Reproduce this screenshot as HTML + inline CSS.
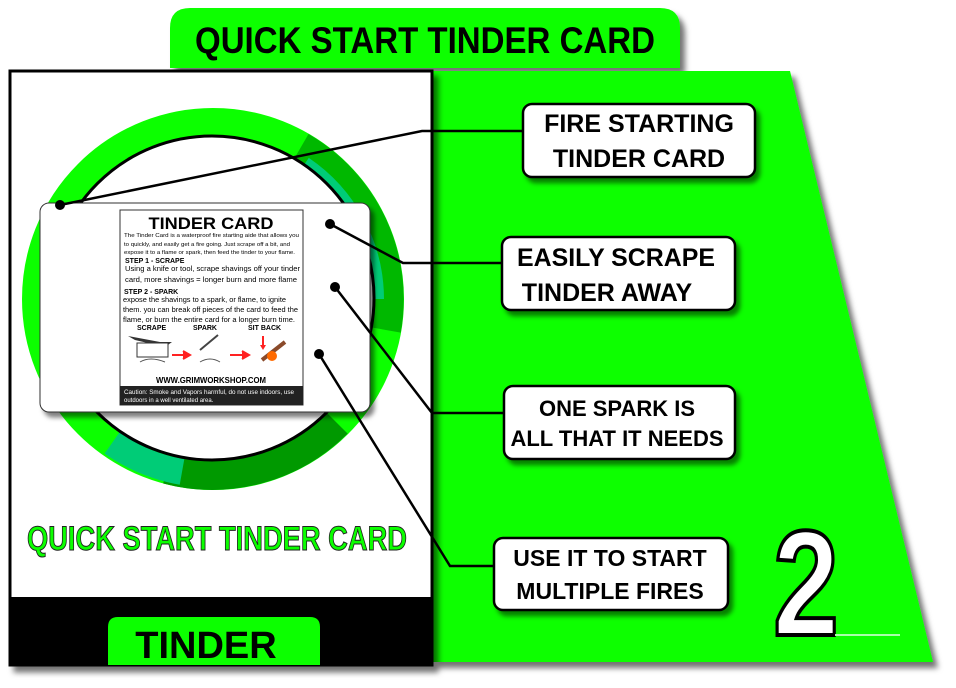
<!DOCTYPE html>
<html><head><meta charset="utf-8"><style>
html,body{margin:0;padding:0;background:#fff;}
svg{display:block;font-family:"Liberation Sans",sans-serif;}
.b{font-weight:bold;}
</style></head><body>
<svg width="956" height="688" viewBox="0 0 956 688" xmlns="http://www.w3.org/2000/svg">
<defs>
<filter id="sh" x="-10%" y="-10%" width="130%" height="130%"><feDropShadow dx="5" dy="6" stdDeviation="3" flood-color="#000" flood-opacity="0.55"/></filter>
<filter id="sh2" x="-10%" y="-10%" width="130%" height="130%"><feDropShadow dx="4" dy="5" stdDeviation="2.5" flood-color="#000" flood-opacity="0.5"/></filter>
</defs>
<path d="M170 68 V28 Q170 8 190 8 H660 Q680 8 680 28 V68 Z" fill="#0cff00" filter="url(#sh)"/>
<text x="425" y="53" text-anchor="middle" class="b" font-size="37" fill="#000" textLength="460" lengthAdjust="spacingAndGlyphs">QUICK START TINDER CARD</text>
<polygon points="432,71 790,71 933,662 432,662" fill="#0cff00" filter="url(#sh)"/>
<rect x="10" y="71" width="422" height="594" fill="#fff" stroke="#000" stroke-width="3" filter="url(#sh)"/>
<rect x="10" y="597" width="422" height="68" fill="#000"/>
<path d="M108 665 V627 Q108 617 118 617 H310 Q320 617 320 627 V665 Z" fill="#0cff00"/>
<text x="206" y="658" text-anchor="middle" class="b" font-size="38" fill="#000">TINDER</text>
<!-- ring -->
<circle cx="213" cy="299" r="176" fill="none" stroke="#0cff00" stroke-width="30"/>
<g fill="none">
<path d="M301 147 A176 176 0 0 1 386 330" stroke="#00b800" stroke-width="30"/>
<path d="M306 162 A166 166 0 0 1 379 299" stroke="#00cc77" stroke-width="10"/>
<path d="M337 423 A176 176 0 0 1 167 469" stroke="#009900" stroke-width="30"/>
<path d="M182 472 A176 176 0 0 1 112 443" stroke="#00cc77" stroke-width="26"/>
</g>
<circle cx="212" cy="298" r="162" fill="#fff" stroke="#000" stroke-width="3"/>
<!-- tinder card -->
<rect x="40" y="203" width="330" height="209" rx="9" fill="#fff" stroke="#333" stroke-width="1" filter="url(#sh2)"/>
<rect x="120" y="210" width="183" height="195" fill="#fff" stroke="#333" stroke-width="1"/>
<text x="211" y="229" text-anchor="middle" class="b" font-size="17" fill="#000" textLength="125" lengthAdjust="spacingAndGlyphs">TINDER CARD</text>
<g font-size="5.6" fill="#000">
<text x="124" y="237" textLength="175" lengthAdjust="spacingAndGlyphs">The Tinder Card is a waterproof fire starting aide that allows you</text>
<text x="124" y="246" textLength="166" lengthAdjust="spacingAndGlyphs">to quickly, and easily get a fire going. Just scrape off a bit, and</text>
<text x="124" y="254" textLength="171" lengthAdjust="spacingAndGlyphs">expose it to a flame or spark, then feed the tinder to your flame.</text>
<text x="125" y="263" class="b" font-size="7">STEP 1 - SCRAPE</text>
<text x="125" y="271" font-size="7.5" textLength="175" lengthAdjust="spacingAndGlyphs">Using a knife or tool, scrape shavings off your tinder</text>
<text x="125" y="282" font-size="7.5" textLength="172" lengthAdjust="spacingAndGlyphs">card, more shavings = longer burn and more flame</text>
<text x="124" y="294" class="b" font-size="7">STEP 2 - SPARK</text>
<text x="123" y="302" font-size="7" textLength="163" lengthAdjust="spacingAndGlyphs">expose the shavings to a spark, or flame, to ignite</text>
<text x="123" y="312" font-size="7" textLength="175" lengthAdjust="spacingAndGlyphs">them. you can break off pieces of the card to feed the</text>
<text x="123" y="322" font-size="7" textLength="172" lengthAdjust="spacingAndGlyphs">flame, or burn the entire card for a longer burn time.</text>
<text x="137" y="330" class="b" font-size="7">SCRAPE</text>
<text x="193" y="330" class="b" font-size="7">SPARK</text>
<text x="248" y="330" class="b" font-size="7">SIT BACK</text>
</g>
<path d="M128 336 L160 342 L172 342 L165 347 L135 340 Z" fill="#333"/>
<rect x="137" y="343" width="31" height="14" fill="#fff" stroke="#333"/>
<path d="M140 362 q10 -6 25 0" stroke="#555" fill="none"/>
<path d="M172 355 H188 M183 351 L190 355 L183 359" stroke="#f22" stroke-width="2" fill="#f22"/>
<path d="M230 355 H247 M242 351 L249 355 L242 359" stroke="#f22" stroke-width="2" fill="#f22"/>
<path d="M200 350 L218 335" stroke="#444" stroke-width="2"/>
<path d="M200 362 q10 -6 20 0" stroke="#555" fill="none"/>
<path d="M263 336 V348" stroke="#f22" stroke-width="2"/>
<path d="M260 345 l3 5 l3 -5z" fill="#f22"/>
<path d="M262 360 L285 342" stroke="#8a4a2a" stroke-width="4"/>
<circle cx="272" cy="356" r="5" fill="#ff6a00"/>
<text x="211" y="383" text-anchor="middle" class="b" font-size="8.5" fill="#000" textLength="110" lengthAdjust="spacingAndGlyphs">WWW.GRIMWORKSHOP.COM</text>
<rect x="120" y="386" width="183" height="19" fill="#222"/>
<text x="124" y="394" font-size="6" fill="#fff" textLength="170" lengthAdjust="spacingAndGlyphs">Caution: Smoke and Vapors harmful, do not use indoors, use</text>
<text x="124" y="402" font-size="6" fill="#fff">outdoors in a well ventilated area.</text>
<text x="217" y="550" text-anchor="middle" class="b" font-size="34" fill="#0cff00" stroke="#222" stroke-width="1" textLength="380" lengthAdjust="spacingAndGlyphs">QUICK START TINDER CARD</text>
<g stroke="#000" stroke-width="2.5" fill="none">
<polyline points="60,205 422,131 522,131"/>
<polyline points="330,224 403,263 502,263"/>
<polyline points="335,287 432,413 504,413"/>
<polyline points="319,354 450,566 494,566"/>
</g>
<g fill="#000"><circle cx="60" cy="205" r="5"/><circle cx="330" cy="224" r="5"/><circle cx="335" cy="287" r="5"/><circle cx="319" cy="354" r="5"/></g>
<g fill="#fff" stroke="#000" stroke-width="2.5" filter="url(#sh2)">
<rect x="523" y="104" width="232" height="73" rx="9"/>
<rect x="502" y="237" width="233" height="73" rx="9"/>
<rect x="504" y="386" width="231" height="73" rx="9"/>
<rect x="494" y="538" width="234" height="72" rx="9"/>
</g>
<g class="b" font-size="25" text-anchor="middle" fill="#000">
<text x="639" y="132">FIRE STARTING</text>
<text x="639" y="167">TINDER CARD</text>
<text x="616" y="266" textLength="198" lengthAdjust="spacingAndGlyphs">EASILY SCRAPE</text>
<text x="607" y="301">TINDER AWAY</text>
<text x="617" y="416" font-size="22">ONE SPARK IS</text>
<text x="617" y="446" font-size="22">ALL THAT IT NEEDS</text>
<text x="610" y="566" font-size="23">USE IT TO START</text>
<text x="610" y="599" font-size="23">MULTIPLE FIRES</text>
</g>
<text x="806" y="635" text-anchor="middle" class="b" font-size="150" fill="#fff" stroke="#000" stroke-width="4" textLength="66" lengthAdjust="spacingAndGlyphs">2</text>
<line x1="835" y1="635" x2="900" y2="635" stroke="#aaffaa" stroke-width="2"/>
</svg>
</body></html>
